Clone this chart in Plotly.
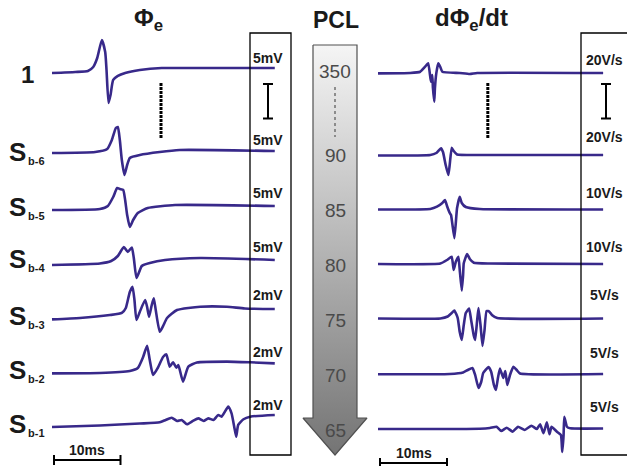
import plotly.graph_objects as go

W, H = 627, 466

# ---------------------------------------------------------------
# Data
# ---------------------------------------------------------------
row_labels = ["1", "b-6", "b-5", "b-4", "b-3", "b-2", "b-1"]
pcl_labels = ["350", "90", "85", "80", "75", "70", "65"]
phi_scale_mv = [5, 5, 5, 5, 2, 2, 2]          # Φe scale bar per row (mV)
dphi_scale_vs = [20, 20, 10, 10, 5, 5, 5]     # dΦe/dt scale bar per row (V/s)
time_bar_ms = 10

# Φe traces: time (ms) and potential (mV)
phi_1_t = [0, 3.5, 5.4, 6.2, 6.8, 7.5, 8.0, 8.2, 8.5, 8.8, 9.2, 9.9, 11.0, 13.2, 16.5, 22.3, 33.5]
phi_1_v = [0, 0.15, 0.29, 0.87, 2.17, 4.78, 3.04, 0.43, -4.35, -3.19, -1.01, -0.43, 0, 0.43, 0.72, 0.72, 0.72]

phi_b6_t = [0, 6.5, 8.3, 9.0, 9.6, 9.9, 10.2, 10.5, 10.9, 11.3, 11.7, 13.2, 16.2, 19.2, 33.5]
phi_b6_v = [0, 0.14, 0.58, 1.88, 3.62, 3.77, 1.88, -1.01, -3.19, -1.74, -0.72, -0.29, 0.14, 0.43, 0.29]

phi_b5_t = [0, 7.2, 8.4, 9.2, 9.8, 10.2, 10.7, 11.0, 11.3, 11.7, 12.2, 12.9, 14.4, 18.5, 33.5]
phi_b5_v = [0, 0.14, 0.58, 1.88, 3.19, 3.04, 2.9, 1.45, -0.72, -2.46, -1.45, -0.43, 0.29, 0.72, 0.58]

phi_b4_t = [0, 7.2, 8.9, 9.9, 10.8, 11.4, 12.0, 12.3, 12.7, 13.1, 13.5, 14.7, 17.0, 22.3, 33.5]
phi_b4_v = [-0.14, 0.07, 0.43, 1.16, 2.46, 1.74, 2.39, 0.87, -2.03, -1.16, -0.29, 0.14, 0.58, 0.87, 0.58]

phi_b3_t = [0, 4.2, 8.7, 10.5, 11.1, 11.7, 12.1, 12.4, 12.7, 13.2, 14.0, 14.3, 14.6, 15.0, 15.3,
            15.6, 16.2, 16.7, 17.3, 18.8, 22.3, 26.3, 29.0, 33.5]
phi_b3_v = [-0.02, 0.06, 0.23, 0.35, 0.64, 1.57, 1.87, 1.10, -0.06, 0.41, 1.10, 0.70, 0.13, 0.81, 1.20,
            0.52, -0.74, -0.41, 0.06, 0.52, 0.71, 0.71, 0.61, 0.58]

phi_b2_t = [0, 7.2, 11.7, 12.9, 13.7, 14.3, 14.7, 15.2, 15.9, 16.7, 17.2, 17.7, 18.2, 18.7, 19.0,
            19.7, 20.5, 21.8, 26.3, 29.8, 33.5]
phi_b2_v = [-0.02, 0, 0.12, 0.29, 0.93, 1.58, 0.75, -0.12, 0.29, 0.93, 1.08, 0.37, 0.62, 0.31, 0.46,
            -0.50, 0.37, 0.61, 0.66, 0.62, 0.56]

phi_b1_t = [0, 7.2, 13.2, 16.2, 17.1, 18.0, 18.8, 19.5, 20.3, 21.2, 22.0, 22.8, 23.5, 24.3, 25.0,
            25.5, 26.5, 27.0, 27.4, 27.7, 28.0, 28.8, 29.8, 33.5]
phi_b1_v = [0, 0.09, 0.20, 0.27, 0.41, 0.54, 0.35, 0.41, 0.16, 0.35, 0.50, 0.35, 0.50, 0.41, 0.70,
            0.60, 1.18, 0.79, 0.02, -0.56, 0.12, 0.45, 0.60, 0.70]

# dΦe/dt traces: time (ms) and slope (V/s)
dphi_1_t = [0, 4.8, 6.3, 7.0, 7.5, 7.9, 8.1, 8.2, 8.4, 8.5, 8.7, 9.0, 9.3, 9.6, 12.2, 13.7, 14.8, 33.6]
dphi_1_v = [-0.2, 0, 0.75, 3.5, 5.6, -5.0, -1.2, -8.7, -16.6, -8.7, -0.2, 5.6, 3.5, 0.75, 0, -0.6, 0, 0]

dphi_b6_t = [0, 7.8, 8.7, 9.4, 9.7, 10.1, 10.5, 10.7, 11.0, 11.3, 11.8, 16.7, 33.6]
dphi_b6_v = [0, 0.3, 1.45, 4.2, 2.0, -5.5, -11.3, -5.5, 4.5, 2.6, 0.58, 0.3, 0.3]

dphi_b5_t = [0, 7.8, 8.8, 9.6, 10.0, 10.3, 10.7, 10.9, 11.4, 11.8, 12.2, 12.5, 13.1, 15.2, 33.6]
dphi_b5_v = [0, 0.14, 0.81, 1.9, 2.75, 1.0, -1.0, -1.6, -8.3, 0.43, 3.7, 1.9, 0.72, 0.14, 0]

dphi_b4_t = [0, 9.3, 10.3, 11.0, 11.3, 11.6, 12.0, 12.2, 12.5, 12.7, 12.8, 13.3, 13.7, 14.3, 16.7, 33.6]
dphi_b4_v = [0, 0.14, 1.16, 2.1, -1.74, 0.58, 2.1, -1.74, -7.7, -3.2, 0.2, 2.9, 1.45, 0.38, 0.14, 0]

dphi_b3_t = [0, 9.3, 10.4, 11.0, 11.4, 11.9, 12.2, 12.5, 12.8, 13.1, 13.6, 13.9, 14.3, 14.5, 14.8,
             15.0, 15.3, 15.6, 15.9, 16.2, 16.6, 17.0, 17.8, 33.6]
dphi_b3_v = [0, 0, 0.29, 0.8, 1.16, 0.07, -1.96, -3.1, -0.94, 0.8, 1.45, -0.22, -2.5, -3.1, -0.22,
             1.52, -0.94, -3.99, -1.67, 1.09, 1.01, 0.5, 0.07, 0]

dphi_b2_t = [0, 10.7, 12.7, 13.4, 14.1, 14.5, 15.0, 15.4, 15.7, 16.5, 16.9, 17.3, 17.6, 17.9, 18.2,
             18.7, 19.0, 19.3, 19.7, 20.2, 20.7, 21.2, 33.6]
dphi_b2_v = [-0.04, 0, 0.22, 0.58, 0.87, -0.14, -2.03, -1.16, 0.14, 1.01, 0.29, -1.59, -2.32, -0.58, 0.8,
             -0.58, 0.43, -1.59, -0.14, 1.06, 0.58, 0.07, 0]

dphi_b1_t = [0, 15.2, 16.7, 17.7, 18.4, 19.2, 20.1, 20.9, 21.9, 22.9, 23.7, 24.2, 24.7, 25.2, 25.6,
             25.9, 26.7, 27.3, 27.5, 27.7, 27.8, 28.2, 28.7, 33.6]
dphi_b1_v = [0, 0.03, 0.14, 0.33, -0.29, 0.19, -0.39, 0.33, -0.14, 0.48, 0, 0.68, -0.62, 0.97, -0.77,
             0.33, -0.39, -0.87, -3.33, -0.87, 1.78, 0.33, 0.1, 0.07]

phi_traces = [(phi_1_t, phi_1_v), (phi_b6_t, phi_b6_v), (phi_b5_t, phi_b5_v), (phi_b4_t, phi_b4_v),
              (phi_b3_t, phi_b3_v), (phi_b2_t, phi_b2_v), (phi_b1_t, phi_b1_v)]
dphi_traces = [(dphi_1_t, dphi_1_v), (dphi_b6_t, dphi_b6_v), (dphi_b5_t, dphi_b5_v), (dphi_b4_t, dphi_b4_v),
               (dphi_b3_t, dphi_b3_v), (dphi_b2_t, dphi_b2_v), (dphi_b1_t, dphi_b1_v)]

# ---------------------------------------------------------------
# Layout geometry (pixels)
# ---------------------------------------------------------------
BAR_PX = 34.5                      # height of one amplitude scale bar
left_x0, left_ppms = 52, 6.65      # Φe panel: time origin and px per ms
right_x0, right_ppms = 378, 6.7    # dΦe/dt panel
left_base = [73, 153, 210, 264, 319, 373, 427]
right_base = [73, 155.5, 209.5, 264, 318.5, 374, 429]

TRACE_COLOR = "#38298a"
TEXT_COLOR = "#1a1a1a"
FONT = "Liberation Sans, Arial, sans-serif"

fig = go.Figure()

layout = dict(
    width=W, height=H, autosize=False,
    margin=dict(l=0, r=0, t=0, b=0, pad=0),
    paper_bgcolor="white", plot_bgcolor="rgba(0,0,0,0)",
    showlegend=False,
    font=dict(family=FONT, color=TEXT_COLOR),
)

hidden = dict(visible=False, showgrid=False, zeroline=False, fixedrange=True)

# time axes: the whole figure width, origin placed at each panel's trace start
layout["xaxis"] = dict(hidden, domain=[0, 1], range=[-left_x0 / left_ppms, (W - left_x0) / left_ppms])
layout["xaxis2"] = dict(hidden, domain=[0, 1], range=[-right_x0 / right_ppms, (W - right_x0) / right_ppms])
# pixel overlay axes for the decorations
layout["xaxis3"] = dict(hidden, domain=[0, 1], range=[0, W])
layout["yaxis15"] = dict(hidden, domain=[0, 1], range=[H, 0], anchor="x3")


def amp_range(base_px, scale):
    return [-(H - base_px) / BAR_PX * scale, base_px / BAR_PX * scale]


# one amplitude axis per row and panel, so each trace is drawn in its own units
for i in range(7):
    ln = 1 + i
    rn = 8 + i
    layout["yaxis" if ln == 1 else f"yaxis{ln}"] = dict(hidden, domain=[0, 1], anchor="x",
                                                        range=amp_range(left_base[i], phi_scale_mv[i]))
    layout[f"yaxis{rn}"] = dict(hidden, domain=[0, 1], anchor="x2",
                                range=amp_range(right_base[i], dphi_scale_vs[i]))

# gradient PCL arrow (light at the top, dark at the tip)
arrow_x = [313, 357, 357, 367, 335, 303, 313, 313]
arrow_y = [45, 45, 418, 418, 455, 418, 418, 45]
fig.add_trace(go.Scatter(
    x=arrow_x, y=arrow_y, xaxis="x3", yaxis="y15", mode="lines", fill="toself",
    fillgradient=dict(type="vertical", colorscale=[[0, "#747474"], [1, "#f5f5f5"]]),
    line=dict(color="#505050", width=1.2), hoverinfo="skip",
))

for i, (t, v) in enumerate(phi_traces):
    ya = "y" if i == 0 else f"y{1 + i}"
    fig.add_trace(go.Scatter(x=t, y=v, xaxis="x", yaxis=ya, mode="lines",
                             line=dict(color=TRACE_COLOR, width=2.6, shape="spline", smoothing=0.5),
                             hoverinfo="skip"))
for i, (t, v) in enumerate(dphi_traces):
    fig.add_trace(go.Scatter(x=t, y=v, xaxis="x2", yaxis=f"y{8 + i}", mode="lines",
                             line=dict(color=TRACE_COLOR, width=2.6, shape="spline", smoothing=0.4),
                             hoverinfo="skip"))

shapes = []
ann = []


def px_line(x0, y0, x1, y1, color="black", width=1.5, dash="solid"):
    shapes.append(dict(type="line", xref="x3", yref="y15", x0=x0, y0=y0, x1=x1, y1=y1,
                       line=dict(color=color, width=width, dash=dash)))


def px_text(x, y, text, size, color=TEXT_COLOR, xanchor="center"):
    ann.append(dict(xref="x3", yref="y15", x=x, y=y, text=text, showarrow=False,
                    xanchor=xanchor, yanchor="middle",
                    font=dict(size=size, color=color, family=FONT)))


# scale boxes
for bx0, bx1 in [(250, 291), (581, 632)]:
    shapes.append(dict(type="rect", xref="x3", yref="y15", x0=bx0, x1=bx1, y0=33, y1=455,
                       line=dict(color="black", width=1.3), fillcolor="rgba(0,0,0,0)", layer="below"))

# amplitude "I" bars
for cx in (268, 606):
    top = 84
    px_line(cx, top, cx, top + BAR_PX, width=2)
    px_line(cx - 5, top, cx + 5, top, width=2)
    px_line(cx - 5, top + BAR_PX, cx + 5, top + BAR_PX, width=2)

# omitted-beats ellipsis between first and second rows
for xr in ("x", "x2"):
    tmid = (161 - left_x0) / left_ppms
    shapes.append(dict(type="line", xref=xr, yref="y15", x0=tmid, x1=tmid, y0=83, y1=138,
                       line=dict(color="black", width=3, dash="3px,1px")))

# dotted link in the arrow
px_line(335, 87, 335, 137, color="#707070", width=1.5, dash="dot")

# 10 ms bars
for xr, ybar in (("x", 460), ("x2", 463)):
    shapes.append(dict(type="line", xref=xr, yref="y15", x0=0.3, x1=0.3 + time_bar_ms, y0=ybar, y1=ybar,
                       line=dict(color="black", width=2.2)))
    for xe in (0.3, 0.3 + time_bar_ms):
        shapes.append(dict(type="line", xref=xr, yref="y15", x0=xe, x1=xe, y0=ybar - 5, y1=ybar + 5,
                           line=dict(color="black", width=2)))
    ann.append(dict(xref=xr, yref="y15", x=0.3 + time_bar_ms / 2, y=ybar - 10,
                    text=f"<b>{time_bar_ms}ms</b>", showarrow=False, yanchor="middle",
                    font=dict(size=14, color=TEXT_COLOR, family=FONT)))

# panel titles
px_text(148, 19, "<b>Φ<sub>e</sub></b>", 24)
px_text(471, 19, "<b>dΦ<sub>e</sub>/dt</b>", 24)
px_text(336, 20, "<b>PCL</b>", 23)

# PCL values in the arrow
for lab, y in zip(pcl_labels, [71, 155, 210, 265, 320, 375, 430]):
    px_text(335, y, lab, 19, color="#4a4a4a")

# row labels
px_text(27, 74, f"<b>{row_labels[0]}</b>", 24)
for lab, yS in zip(row_labels[1:], [152, 207, 259, 316, 370, 424]):
    px_text(17, yS, "<b>S</b>", 26)
    px_text(36, yS + 9, f"<b>{lab}</b>", 11)

# amplitude scale labels
for s, y in zip(phi_scale_mv, [58, 140, 193, 247, 295, 352, 405]):
    px_text(268, y, f"<b>{s}mV</b>", 14)
for s, y in zip(dphi_scale_vs, [60, 137, 193, 247, 295, 353, 407]):
    px_text(604, y, f"<b>{s}V/s</b>", 14)

layout["shapes"] = shapes
layout["annotations"] = ann
fig.update_layout(**layout)

fig.write_html("out.html")
